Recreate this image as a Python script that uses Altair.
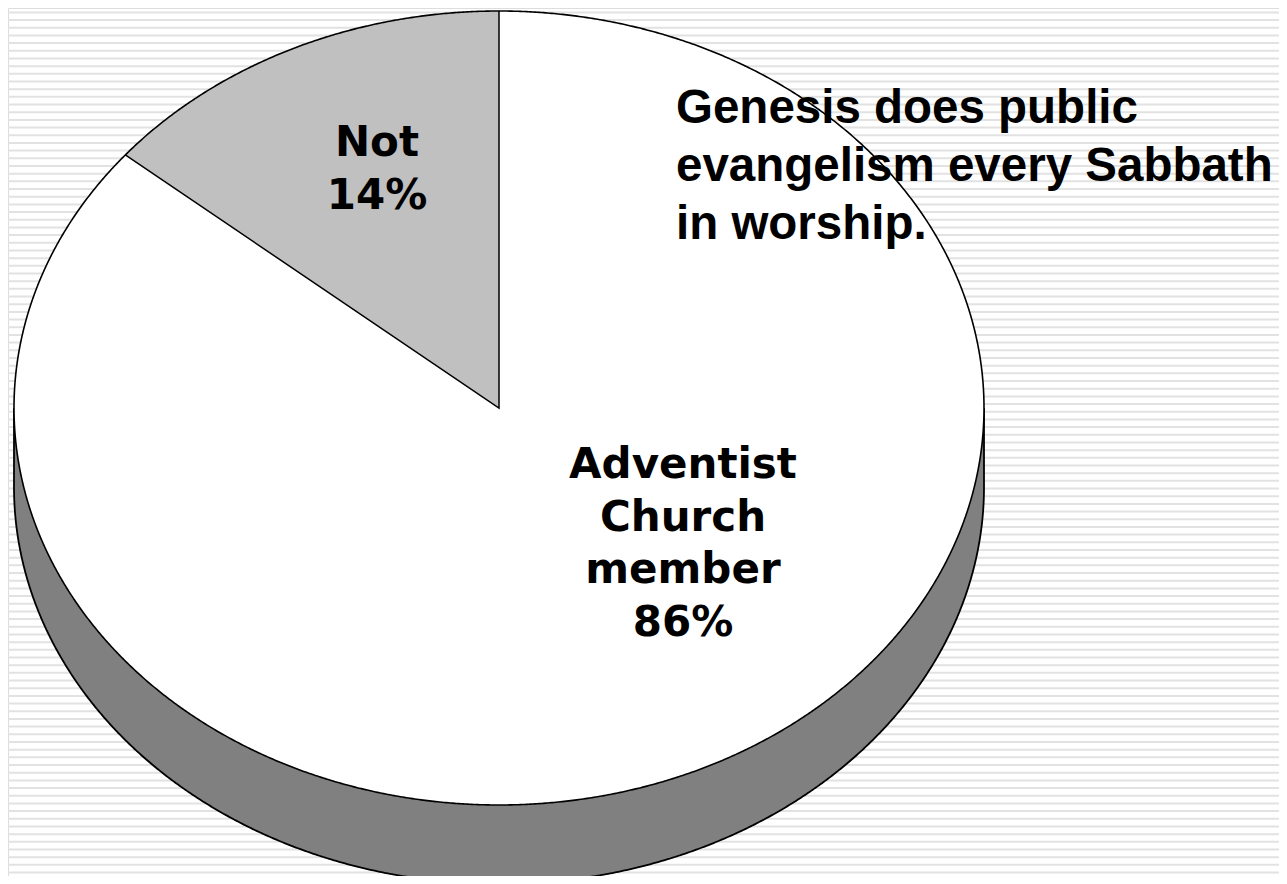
import numpy as np
import pandas as pd
import altair as alt

# Chart values
categories = ["Adventist Church member", "Not"]
shares = [86, 14]
face_colors = ["#ffffff", "#c0c0c0"]
side_color = "#808080"
stripe_color = "#e2e2e2"

not_label = ["Not\n14%"]
member_label = ["Adventist\nChurch\nmember\n86%"]
note_label = ["Genesis does public\nevangelism every Sabbath\nin worship."]

# Page geometry of the tilted pie
W, H = 1271, 868
CX, CY, RX, RY = 491.0, 400.0, 485.0, 397.0
DEPTH = 79.0 / RY
STRIPE_FIRST, STRIPE_PITCH = -3.3, 7.68

x_scale = alt.Scale(domain=[-CX / RX, (W - CX) / RX], range=[0, W], nice=False, zero=False)
y_scale = alt.Scale(domain=[(CY - H) / RY, CY / RY], range=[H, 0], nice=False, zero=False)
X = alt.X("u:Q", scale=x_scale, axis=None)
Y = alt.Y("v:Q", scale=y_scale, axis=None)
Y2 = alt.Y2("v2:Q")

# Background stripes
n_stripes = int((H - STRIPE_FIRST) / STRIPE_PITCH) + 1
stripes = pd.DataFrame({"v": [(CY - (STRIPE_FIRST + STRIPE_PITCH * i)) / RY for i in range(n_stripes)]})
stripe_layer = alt.Chart(stripes).mark_rule(color=stripe_color, strokeWidth=2).encode(
    y=Y, x=alt.value(0), x2=alt.value(W)
)

t = np.linspace(0, np.pi, 721)
cos_t, sin_t = np.cos(t), np.sin(t)

# Side wall
side = pd.DataFrame({"u": cos_t, "v": -sin_t, "v2": -sin_t - DEPTH})
side_fill = alt.Chart(side).mark_area(color=side_color).encode(x=X, y=Y, y2=Y2)
side_path = pd.DataFrame({
    "u": np.r_[1.0, cos_t, -1.0],
    "v": np.r_[0.0, -sin_t - DEPTH, 0.0],
})
side_path["o"] = range(len(side_path))
side_line = alt.Chart(side_path).mark_line(color="black", strokeWidth=1.8).encode(
    x=X, y=Y, order="o:Q"
)

# Top face
face = pd.DataFrame({"u": cos_t, "v": sin_t, "v2": -sin_t})
face_fill = alt.Chart(face).mark_area(color=face_colors[0]).encode(x=X, y=Y, y2=Y2)

# Grey slice, running anticlockwise from twelve o'clock by its share
angle = 2 * np.pi * shares[1] / sum(shares)
a = np.linspace(angle, 0, 241)
wedge_u, wedge_v = -np.sin(a), np.cos(a)
tip_u, tip_v = wedge_u[0], wedge_v[0]
wedge = pd.DataFrame({"u": wedge_u, "v": wedge_v, "v2": tip_v * wedge_u / tip_u})
wedge.loc[wedge.index[-1], "v2"] = 0.0
wedge_fill = alt.Chart(wedge).mark_area(color=face_colors[1]).encode(x=X, y=Y, y2=Y2)

# Outlines of the top face and slice
full = np.linspace(0, 2 * np.pi, 1441)
face_path = pd.DataFrame({"u": np.cos(full), "v": np.sin(full), "o": range(len(full))})
face_line = alt.Chart(face_path).mark_line(color="black", strokeWidth=1.6).encode(
    x=X, y=Y, order="o:Q"
)
spokes = pd.DataFrame({"u": [tip_u, 0.0, 0.0], "v": [tip_v, 0.0, 1.0], "o": [0, 1, 2]})
spoke_line = alt.Chart(spokes).mark_line(color="black", strokeWidth=1.5).encode(
    x=X, y=Y, order="o:Q"
)

# Labels
def label(values, px, py, font, size, align, line_height):
    return alt.Chart(pd.DataFrame({"label": values})).mark_text(
        font=font, fontSize=size, fontWeight="bold", align=align, baseline="top",
        lineBreak="\n", lineHeight=line_height, color="black",
    ).encode(x=alt.value(px), y=alt.value(py), text="label:N")

labels = [
    label(not_label, 369, 115, "DejaVu Sans", 42, "center", 53),
    label(member_label, 675, 437, "DejaVu Sans", 42, "center", 52.5),
    label(note_label, 668, 77, "Liberation Sans", 47.5, "left", 58),
]

chart = alt.layer(
    stripe_layer, side_fill, side_line, face_fill, wedge_fill, face_line, spoke_line, *labels
).properties(
    width=W, height=H, padding=0, autosize=alt.AutoSizeParams(type="none")
).configure_view(stroke=None).configure(background="white")

chart.save("out.html", embed_options={"renderer": "svg", "actions": False})
